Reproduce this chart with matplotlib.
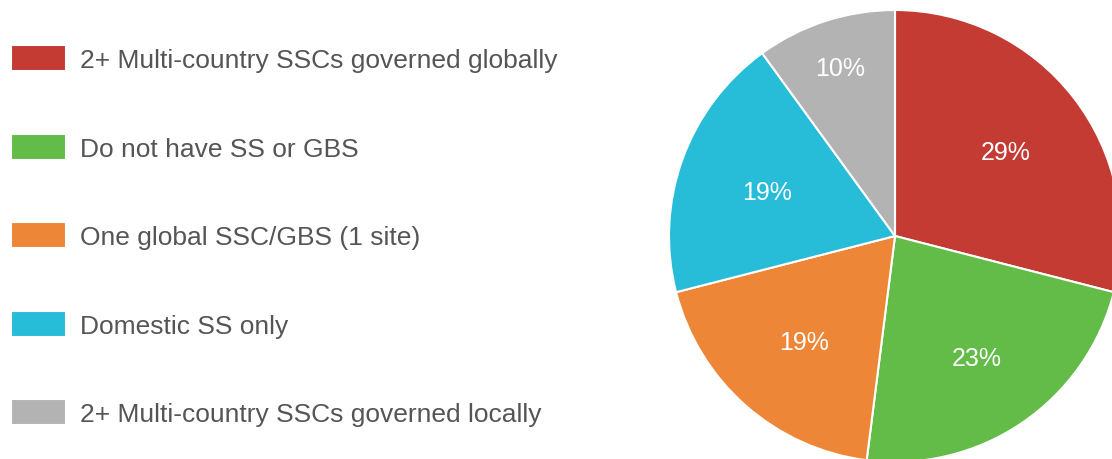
import matplotlib.pyplot as plt
import numpy as np

plt.rcParams['font.family'] = ['Liberation Sans', 'DejaVu Sans']

labels = ["2+ Multi-country SSCs governed globally",
          "Do not have SS or GBS",
          "One global SSC/GBS (1 site)",
          "Domestic SS only",
          "2+ Multi-country SSCs governed locally"]
shares = [29, 23, 19, 19, 10]
colors = ["#c33b33", "#63bb48", "#ee8637", "#27bcd7", "#b3b3b3"]

W, H = 1112, 460
fig = plt.figure(figsize=(W / 100, H / 100), dpi=100)

# pie placed by pixel centre / radius
cx, cy, r = 895, 237, 226
ax = fig.add_axes([(cx - r) / W, (H - cy - r) / H, 2 * r / W, 2 * r / H])
wedges, texts, autotexts = ax.pie(
    shares, colors=colors, startangle=90, counterclock=False,
    autopct=lambda p: "%d%%" % round(p), pctdistance=0.62,
    wedgeprops=dict(edgecolor="white", linewidth=1.5),
    textprops=dict(color="white", fontsize=18))
ax.set_xlim(-1, 1)
ax.set_ylim(-1, 1)
ax.set_aspect("equal")

# label radius per slice (small slice gets pushed outward)
label_r = [0.62, 0.64, 0.61, 0.60, 0.79]
for w, t, lr in zip(wedges, autotexts, label_r):
    ang = np.deg2rad((w.theta1 + w.theta2) / 2)
    t.set_position((lr * np.cos(ang), lr * np.sin(ang) - 0.01))

leg = fig.legend(wedges, labels, loc="upper left",
                 bbox_to_anchor=(11 / W, 1 - 46 / H),
                 frameon=False, fontsize=19, borderpad=0, borderaxespad=0,
                 handlelength=2.1, handleheight=1.15, handletextpad=0.5,
                 labelspacing=2.33)
for t in leg.get_texts():
    t.set_color("#555555")

fig.savefig("out.png", dpi=100)
